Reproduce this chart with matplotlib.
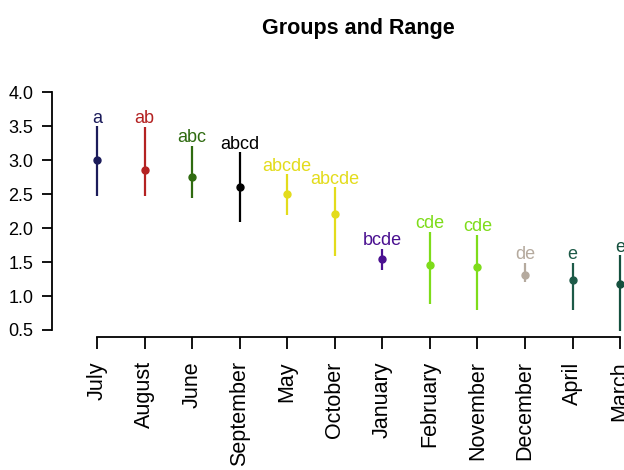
import matplotlib.pyplot as plt

plt.rcParams["font.family"] = ["Liberation Sans", "DejaVu Sans"]

# values
months = ["July", "August", "June", "September", "May", "October", "January",
          "February", "November", "December", "April", "March"]
means = [3.00, 2.86, 2.76, 2.60, 2.50, 2.21, 1.54, 1.45, 1.43, 1.31, 1.23, 1.17]
lows = [2.48, 2.48, 2.45, 2.09, 2.20, 1.59, 1.38, 0.89, 0.79, 1.20, 0.79, 0.48]
highs = [3.50, 3.49, 3.21, 3.12, 2.79, 2.60, 1.70, 1.95, 1.90, 1.49, 1.49, 1.60]
groups = ["a", "ab", "abc", "abcd", "abcde", "abcde", "bcde", "cde", "cde", "de", "e", "e"]
colors = ["#1b1b5a", "#b42222", "#2f6b10", "#000000", "#e3dc1c", "#e3dc1c", "#4a1090",
          "#7edc1a", "#7edc1a", "#b5aa9e", "#1d5a48", "#15503e"]

fig = plt.figure(figsize=(6.24, 4.70), dpi=100)
ax = fig.add_axes([0.0833, 0.283, 0.9167, 0.5206])

x = range(1, len(months) + 1)
for i, xi in enumerate(x):
    ax.vlines(xi, lows[i], highs[i], color=colors[i], linewidth=1.6)
    ax.plot(xi, means[i], "o", color=colors[i], markersize=5)
    ax.annotate(groups[i], (xi, highs[i]), xytext=(0, 2.5), textcoords="offset points",
                ha="center", va="baseline", fontsize=13, color=colors[i])

ax.set_xlim(0.054, 12.08)
ax.set_ylim(0.397, 4.0)
ax.set_yticks([0.5, 1.0, 1.5, 2.0, 2.5, 3.0, 3.5, 4.0])
ax.set_yticklabels([f"{v:.1f}" for v in ax.get_yticks()], fontsize=13)
ax.set_xticks(list(x))
ax.set_xticklabels(months, rotation=90, fontsize=15.5)

for side in ["top", "right"]:
    ax.spines[side].set_visible(False)
ax.spines["left"].set_bounds(0.5, 4.0)
ax.spines["bottom"].set_bounds(1, 12)
ax.spines["left"].set_linewidth(1.3)
ax.spines["bottom"].set_linewidth(1.3)
ax.tick_params(axis="y", length=7.5, width=1.3, pad=6)
ax.tick_params(axis="x", length=8.5, width=1.3, pad=9)

fig.text(0.574, 0.94, "Groups and Range", ha="center", va="center",
         fontsize=15.5, fontweight="bold")

fig.savefig("out.png", dpi=100)
